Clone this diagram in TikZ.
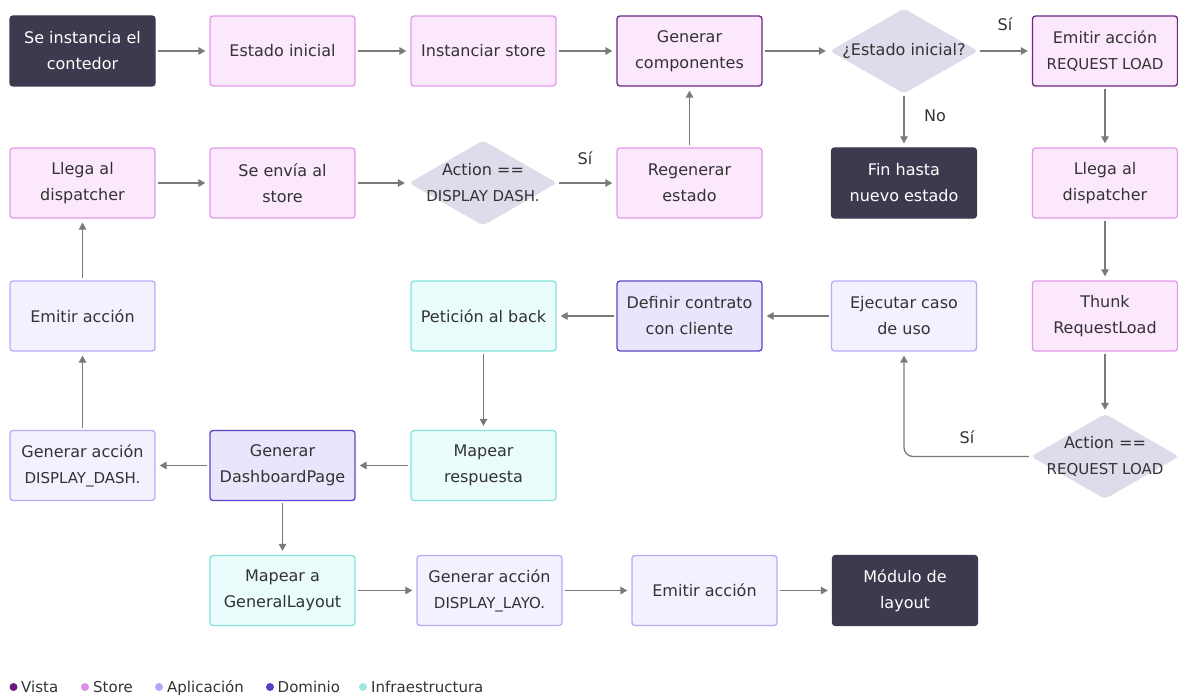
\documentclass[tikz,border=0pt]{standalone}
\usepackage{fontspec}
\setmainfont{DejaVu Sans}
\usetikzlibrary{arrows.meta,shapes.geometric}
\definecolor{txt}{HTML}{333333}
\definecolor{darkc}{HTML}{3C3A4E}
\definecolor{pinkfill}{HTML}{FBE8FC}
\definecolor{pinkline}{HTML}{E09AE8}
\definecolor{vistaline}{HTML}{6E2583}
\definecolor{appfill}{HTML}{F3F1FE}
\definecolor{appline}{HTML}{B7ABF8}
\definecolor{domfill}{HTML}{E7E6FC}
\definecolor{domline}{HTML}{5A45C6}
\definecolor{inffill}{HTML}{EAFCFB}
\definecolor{infline}{HTML}{86E2D8}
\definecolor{dfill}{HTML}{DCDCEA}
\definecolor{arrowc}{HTML}{7A7A7A}
\definecolor{legvista}{HTML}{6B1A7E}
\definecolor{legstore}{HTML}{DA8EE6}
\definecolor{legapp}{HTML}{B3A6FA}
\definecolor{legdom}{HTML}{5240C8}
\definecolor{leginf}{HTML}{9FE8E0}
\newcommand{\smalltxt}[1]{{\fontsize{15pt}{26pt}\selectfont #1}}
\begin{document}
\begin{tikzpicture}[x=1pt,y=-1pt,
  base/.style={rectangle, rounded corners=3pt, minimum width=145pt, minimum height=70pt,
    inner sep=0pt, align=center, line width=1.3pt, text=txt,
    font=\fontsize{16pt}{26pt}\selectfont},
  darkbox/.style={base, fill=darkc, draw=darkc, text=white},
  storebox/.style={base, fill=pinkfill, draw=pinkline},
  vistabox/.style={base, fill=pinkfill, draw=vistaline},
  appbox/.style={base, fill=appfill, draw=appline},
  dombox/.style={base, fill=domfill, draw=domline},
  infbox/.style={base, fill=inffill, draw=infline},
  decision/.style={rectangle, minimum width=148pt, minimum height=85pt,
    inner sep=0pt, draw=none, align=center, text=txt,
    font=\fontsize{16pt}{26pt}\selectfont,
    path picture={\fill[dfill, rounded corners=4pt]
      (path picture bounding box.north) -- (path picture bounding box.east) --
      (path picture bounding box.south) -- (path picture bounding box.west) -- cycle;}},
  flow/.style={draw=arrowc, line width=1.3pt, -{Triangle[length=7pt,width=7.5pt]},
    shorten >=4pt, shorten <=2pt},
  lbl/.style={text=txt, font=\fontsize{16pt}{20pt}\selectfont, inner sep=0pt},
  leg/.style={text=txt, font=\fontsize{15pt}{18pt}\selectfont, inner sep=0pt, anchor=base west}
]
\useasboundingbox (0,0) rectangle (1178,698);

% row 1
\node[darkbox]  (inst)  at (82.5,51)  {Se instancia el\\contedor};
\node[storebox] (estini) at (282.5,51) {Estado inicial};
\node[storebox] (instst) at (483.5,51) {Instanciar store};
\node[vistabox] (gencomp) at (689.5,51) {Generar\\componentes};
\node[decision] (dest) at (904,51) {¿Estado inicial?};
\node[vistabox] (emitrl) at (1105,51) {Emitir acción\\\smalltxt{REQUEST LOAD}};

% row 2
\node[storebox] (llega1) at (82.5,183) {Llega al\\dispatcher};
\node[storebox] (envia) at (282.5,183) {Se envía al\\store};
\node[decision] (ddash) at (483,183) {Action ==\\\smalltxt{DISPLAY DASH.}};
\node[storebox] (regen) at (689.5,183) {Regenerar\\estado};
\node[darkbox]  (fin) at (904,183) {Fin hasta\\nuevo estado};
\node[storebox] (llega2) at (1105,183) {Llega al\\dispatcher};

% row 3
\node[appbox] (emit1) at (82.5,316) {Emitir acción};
\node[infbox] (peticion) at (483.5,316) {Petición al back};
\node[dombox] (definir) at (689.5,316) {Definir contrato\\con cliente};
\node[appbox] (ejec) at (904,316) {Ejecutar caso\\de uso};
\node[storebox] (thunk) at (1105,316) {Thunk\\RequestLoad};

% row 4
\node[appbox] (gendash) at (82.5,465.5) {Generar acción\\\smalltxt{DISPLAY\_DASH.}};
\node[dombox] (genpage) at (282.5,465.5) {Generar\\DashboardPage};
\node[infbox] (mapresp) at (483.5,465.5) {Mapear\\respuesta};
\node[decision] (dreq) at (1105,456.5) {Action ==\\\smalltxt{REQUEST LOAD}};

% row 5
\node[infbox] (mapgen) at (282.5,590.5) {Mapear a\\GeneralLayout};
\node[appbox] (genlayo) at (489.5,590.5) {Generar acción\\\smalltxt{DISPLAY\_LAYO.}};
\node[appbox] (emit2) at (704.5,590.5) {Emitir acción};
\node[darkbox] (modulo) at (905,590.5) {Módulo de\\layout};

% connectors
\draw[flow] (inst) -- (estini);
\draw[flow] (estini) -- (instst);
\draw[flow] (instst) -- (gencomp);
\draw[flow] (gencomp) -- (dest);
\draw[flow] (dest) -- (emitrl);
\draw[flow] (dest) -- (fin);
\draw[flow] (emitrl) -- (llega2);
\draw[flow] (llega2) -- (thunk);
\draw[flow] (thunk) -- (dreq);
\draw[flow, rounded corners=9pt] (dreq.west) -| (ejec.south);
\draw[flow] (ejec) -- (definir);
\draw[flow] (definir) -- (peticion);
\draw[flow] (peticion) -- (mapresp);
\draw[flow] (mapresp) -- (genpage);
\draw[flow] (genpage) -- (gendash);
\draw[flow] (genpage) -- (mapgen);
\draw[flow] (mapgen) -- (genlayo);
\draw[flow] (genlayo) -- (emit2);
\draw[flow] (emit2) -- (modulo);
\draw[flow] (gendash) -- (emit1);
\draw[flow] (emit1) -- (llega1);
\draw[flow] (llega1) -- (envia);
\draw[flow] (envia) -- (ddash);
\draw[flow] (ddash) -- (regen);
\draw[flow] (regen) -- (gencomp);

% edge labels
\node[lbl] (l1) at (1005,24) {Sí};
\node[lbl] (l2) at (935,116) {No};
\node[lbl] (l3) at (585,158) {Sí};
\node[lbl] (l4) at (967,437) {Sí};

% legend
\fill[legvista] (13.5,687) circle (4pt);
\node[leg] (lv) at (21,692.5) {Vista};
\fill[legstore] (85,687) circle (4pt);
\node[leg] (ls) at (93,692.5) {Store};
\fill[legapp] (159,687) circle (4pt);
\node[leg] (la) at (167,692.5) {Aplicación};
\fill[legdom] (270,687) circle (4pt);
\node[leg] (ld) at (277.5,692.5) {Dominio};
\fill[leginf] (363,687) circle (4pt);
\node[leg] (li) at (371,692.5) {Infraestructura};
\end{tikzpicture}
\end{document}
